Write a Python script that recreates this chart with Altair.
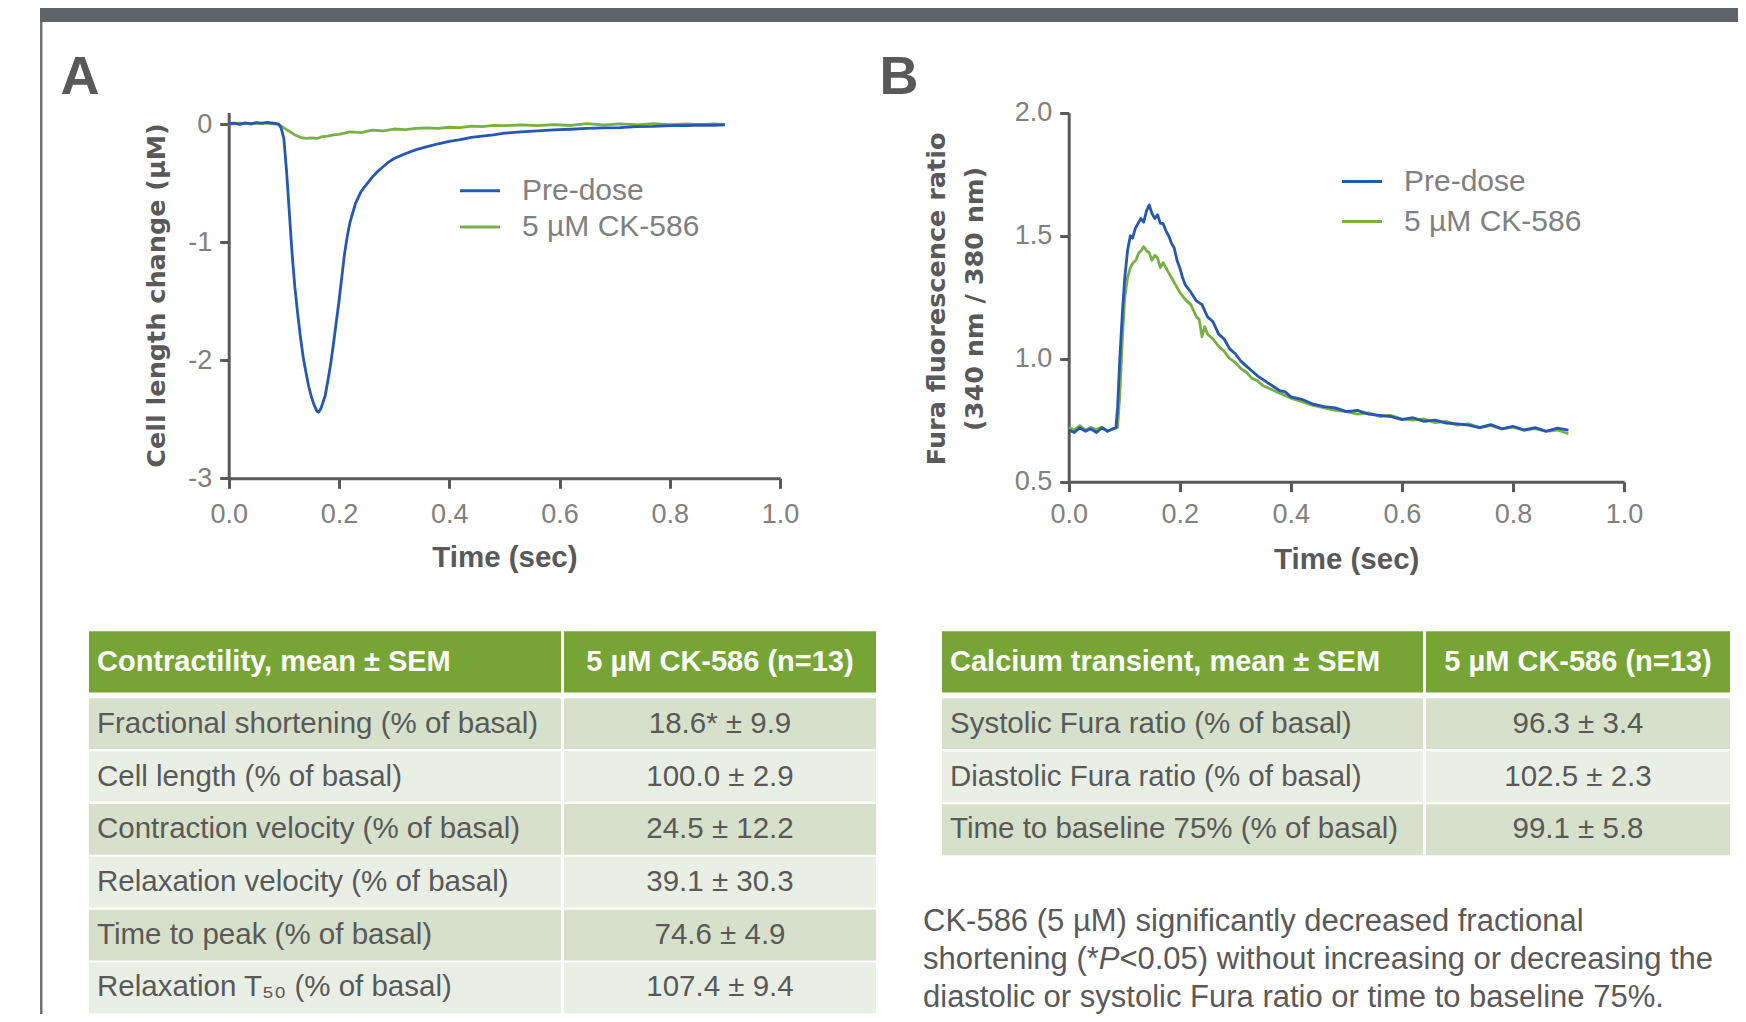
import altair as alt
import pandas as pd

# ---------------- data ----------------
SERIES = ["Pre-dose", "5 µM CK-586"]

# Panel A: cell length change (µM) vs time (sec)
A_PRE_T = [0.0, 0.01, 0.02, 0.03, 0.04, 0.05, 0.06, 0.07, 0.08, 0.09,
           0.095, 0.1, 0.105, 0.11, 0.115, 0.12, 0.125, 0.13, 0.135, 0.14, 0.145, 0.15, 0.155, 0.16,
           0.163, 0.167, 0.17, 0.175, 0.18, 0.185, 0.19, 0.195, 0.2, 0.205, 0.21, 0.215, 0.22,
           0.23, 0.24, 0.25, 0.26, 0.27, 0.28, 0.29, 0.3,
           0.32, 0.34, 0.36, 0.38, 0.4, 0.42, 0.44, 0.46, 0.48, 0.5,
           0.53, 0.56, 0.59, 0.62, 0.65, 0.68, 0.71, 0.74, 0.77, 0.8, 0.83, 0.86,
           0.88, 0.9]
A_PRE_V = [0.005, 0.01, 0.0, 0.012, 0.004, 0.015, 0.008, 0.016, 0.01, 0.004,
           -0.03, -0.12, -0.4, -0.75, -1.1, -1.38, -1.6, -1.8, -1.97, -2.1, -2.22, -2.31, -2.38, -2.43,
           -2.44, -2.41, -2.37, -2.30, -2.17, -2.03, -1.86, -1.68, -1.50, -1.30, -1.10, -0.95, -0.83,
           -0.67, -0.57, -0.51, -0.45, -0.40, -0.36, -0.32, -0.29,
           -0.25, -0.215, -0.19, -0.165, -0.145, -0.13, -0.11, -0.10, -0.09, -0.075,
           -0.065, -0.055, -0.048, -0.042, -0.035, -0.03, -0.028, -0.02, -0.018, -0.012, -0.01, -0.006,
           -0.008, -0.005]
A_CK_T = [0.0, 0.02, 0.04, 0.06, 0.08,
          0.09, 0.1, 0.11, 0.12, 0.13, 0.14, 0.15, 0.16, 0.17, 0.18, 0.19, 0.2,
          0.22, 0.24, 0.26, 0.28, 0.3, 0.32, 0.34, 0.36, 0.38, 0.4, 0.42, 0.44, 0.46, 0.48, 0.5,
          0.53, 0.56, 0.59, 0.62, 0.65, 0.68, 0.71, 0.74, 0.77, 0.8, 0.83, 0.86,
          0.88, 0.9]
A_CK_V = [0.0, 0.01, 0.004, 0.012, 0.003,
          0.0, -0.03, -0.06, -0.09, -0.11, -0.12, -0.115, -0.12, -0.105, -0.1, -0.09, -0.085,
          -0.065, -0.07, -0.05, -0.055, -0.04, -0.045, -0.035, -0.03, -0.035, -0.025, -0.028, -0.015, -0.02, -0.01, -0.012,
          -0.005, -0.012, -0.002, -0.01, 0.005, -0.006, 0.004, -0.004, 0.006, -0.003, 0.004, -0.002,
          0.003, 0.0]

# Panel B: Fura fluorescence ratio vs time (sec)
B_PRE_T = [0.0, 0.01, 0.02, 0.03, 0.04, 0.05, 0.06, 0.07, 0.08,
           0.085, 0.088, 0.092, 0.097, 0.101, 0.106, 0.111,
           0.115, 0.12, 0.125, 0.13, 0.135, 0.14, 0.145, 0.15, 0.155, 0.16, 0.165, 0.17, 0.175, 0.18,
           0.185, 0.19, 0.195, 0.2, 0.205, 0.21,
           0.22, 0.23, 0.24, 0.25, 0.26, 0.27, 0.28, 0.29, 0.3, 0.31, 0.32, 0.33, 0.34, 0.35, 0.36,
           0.37, 0.38, 0.39, 0.4,
           0.42, 0.44, 0.46, 0.48, 0.5, 0.52, 0.54, 0.56, 0.58, 0.6, 0.62, 0.64, 0.66, 0.68, 0.7,
           0.72, 0.74, 0.76, 0.78, 0.8, 0.82, 0.84, 0.86, 0.88, 0.9]
B_PRE_V = [0.71, 0.70, 0.72, 0.705, 0.715, 0.70, 0.72, 0.705, 0.715,
           0.72, 0.80, 1.0, 1.2, 1.33, 1.44, 1.50,
           1.49, 1.53, 1.55, 1.57, 1.555, 1.60, 1.625, 1.59, 1.57, 1.585, 1.55, 1.55, 1.52, 1.50,
           1.47, 1.45, 1.40, 1.37, 1.33, 1.30,
           1.27, 1.235, 1.22, 1.17, 1.15, 1.10, 1.08, 1.04, 1.02, 0.99, 0.97, 0.95, 0.93, 0.915, 0.90,
           0.885, 0.87, 0.865, 0.845,
           0.835, 0.815, 0.805, 0.80, 0.785, 0.79, 0.775, 0.77, 0.765, 0.752, 0.76, 0.745, 0.75, 0.738, 0.735,
           0.73, 0.72, 0.732, 0.715, 0.725, 0.71, 0.72, 0.705, 0.718, 0.71]
B_CK_T = [0.0, 0.01, 0.02, 0.03, 0.04, 0.05, 0.06, 0.07, 0.08,
          0.088, 0.092, 0.097, 0.101, 0.106, 0.111, 0.116, 0.121, 0.126, 0.131, 0.135,
          0.14, 0.145, 0.15, 0.155, 0.16, 0.165, 0.17, 0.175, 0.18, 0.185, 0.19, 0.195, 0.2,
          0.21, 0.22, 0.23, 0.235, 0.24, 0.245, 0.25,
          0.26, 0.27, 0.28, 0.29, 0.3, 0.31, 0.32, 0.33, 0.34, 0.35, 0.36, 0.37, 0.38, 0.39, 0.4,
          0.42, 0.44, 0.46, 0.48, 0.5, 0.52, 0.54, 0.56, 0.58, 0.6, 0.62, 0.64, 0.66, 0.68, 0.7,
          0.72, 0.74, 0.76, 0.78, 0.8, 0.82, 0.84, 0.86, 0.88, 0.9]
B_CK_V = [0.72, 0.71, 0.728, 0.71, 0.72, 0.712, 0.722, 0.705, 0.715,
          0.72, 0.85, 1.10, 1.25, 1.33, 1.37, 1.39, 1.40, 1.43, 1.44, 1.455,
          1.44, 1.43, 1.40, 1.42, 1.41, 1.37, 1.39, 1.37, 1.35, 1.33, 1.31, 1.29, 1.27,
          1.24, 1.22, 1.17, 1.16, 1.09, 1.13, 1.10,
          1.08, 1.05, 1.03, 1.00, 0.985, 0.96, 0.945, 0.92, 0.91, 0.89, 0.88, 0.87, 0.86, 0.85, 0.84,
          0.825, 0.81, 0.80, 0.79, 0.785, 0.775, 0.78, 0.765, 0.77, 0.755, 0.75, 0.755, 0.74, 0.745, 0.73,
          0.735, 0.72, 0.728, 0.715, 0.722, 0.71, 0.716, 0.705, 0.71, 0.695]

X_TICKS = [0.0, 0.2, 0.4, 0.6, 0.8, 1.0]
A_Y_TICKS = [-3, -2, -1, 0]
B_Y_TICKS = [0.5, 1.0, 1.5, 2.0]

PANEL_LETTERS = ["A", "B"]

CONTRACT_HEADER = ["Contractility, mean ± SEM", "5 µM CK-586 (n=13)"]
CONTRACT_LABELS = ["Fractional shortening (% of basal)", "Cell length (% of basal)",
                   "Contraction velocity (% of basal)", "Relaxation velocity (% of basal)",
                   "Time to peak (% of basal)", "Relaxation T₅₀ (% of basal)"]
CONTRACT_VALUES = ["18.6* ± 9.9", "100.0 ± 2.9", "24.5 ± 12.2", "39.1 ± 30.3", "74.6 ± 4.9", "107.4 ± 9.4"]

CALCIUM_HEADER = ["Calcium transient, mean ± SEM", "5 µM CK-586 (n=13)"]
CALCIUM_LABELS = ["Systolic Fura ratio (% of basal)", "Diastolic Fura ratio (% of basal)",
                  "Time to baseline 75% (% of basal)"]
CALCIUM_VALUES = ["96.3 ± 3.4", "102.5 ± 2.3", "99.1 ± 5.8"]

NOTE_LINE1 = "CK-586 (5 µM) significantly decreased fractional"
NOTE_LINE2A = "shortening (*"
NOTE_LINE2B = "P"
NOTE_LINE2C = "<0.05) without increasing or decreasing the"
NOTE_LINE3 = "diastolic or systolic Fura ratio or time to baseline 75%."

# ---------------- layout & style ----------------
W, H = 1730, 1006
SANS = "Liberation Sans, Arial, Helvetica, sans-serif"
WIDE = "DejaVu Sans, Verdana, sans-serif"
NARROW = "Liberation Sans Narrow, Liberation Sans, Arial, sans-serif"

AXIS_C = "#595959"
LABEL_C = "#808080"
TEXT_C = "#595959"
BLUE = "#2458b3"
GREEN = "#78b143"
HEAD = "#76a535"
ROW_DARK = "#d6e0cb"
ROW_LIGHT = "#eaefe5"
BAR_C = "#5f6269"
BORDER_C = "#6f727a"

one = pd.DataFrame({"k": [0]})


def traces(t_pre, v_pre, t_ck, v_ck):
    return pd.DataFrame({
        "t": list(t_ck) + list(t_pre),
        "v": list(v_ck) + list(v_pre),
        "series": [SERIES[1]] * len(t_ck) + [SERIES[0]] * len(t_pre),
    })


def axis(**kw):
    d = dict(domainColor=AXIS_C, domainWidth=3, tickColor=AXIS_C, tickWidth=3,
             labelColor=LABEL_C, labelFont=SANS, labelFontSize=27, labelFlush=False,
             labelOverlap=False, grid=False, titleColor=AXIS_C, titleFontWeight="bold",
             titleAlign="center", titleBaseline="middle")
    d.update(kw)
    return alt.Axis(**d)


def panel(df, x_rng, y_rng, y_dom, y_axis_kw, y_title, y_title_xy, x_title_xy, x_lab_pad,
          leg_x, leg_ys):
    color = alt.Color("series:N", scale=alt.Scale(domain=SERIES, range=[BLUE, GREEN]), legend=None)
    lines = alt.Chart(df).mark_line(strokeWidth=2.8, strokeJoin="round").encode(
        x=alt.X("t:Q", scale=alt.Scale(domain=[0, 1], range=list(x_rng), nice=False, zero=False),
                axis=axis(orient="bottom", values=X_TICKS, format=".1f", tickSize=10,
                          labelPadding=x_lab_pad, offset=y_rng[0] - H,
                          title="Time (sec)", titleFont=SANS, titleFontSize=29.5,
                          titleX=x_title_xy[0], titleY=x_title_xy[1])),
        y=alt.Y("v:Q", scale=alt.Scale(domain=list(y_dom), range=list(y_rng), nice=False, zero=False),
                axis=axis(orient="left", tickSize=9, labelPadding=8, offset=-x_rng[0],
                          title=y_title, titleFont=WIDE, titleFontSize=25.5, titleAngle=270,
                          titleX=y_title_xy[0], titleY=y_title_xy[1], titleLineHeight=38,
                          **y_axis_kw)),
        color=color,
    )
    leg_df = pd.DataFrame({"series": SERIES})
    leg_y = alt.Y("series:N", axis=None,
                  scale=alt.Scale(type="point", domain=SERIES, range=list(leg_ys), padding=0))
    leg_rule = alt.Chart(leg_df).mark_rule(strokeWidth=3).encode(
        x=alt.value(leg_x), x2=alt.value(leg_x + 40), y=leg_y, color=color)
    leg_text = alt.Chart(leg_df).mark_text(align="left", baseline="middle", font=SANS,
                                           fontSize=30, color=LABEL_C).encode(
        x=alt.value(leg_x + 62), y=leg_y, text="series:N")
    return [lines, leg_rule, leg_text]


def table(header, labels, values, cols, head_rng, body_rng):
    c1l, c1r, c2l, c2r = cols
    hdf = pd.DataFrame({"name": [header[0]], "value": [header[1]]})
    hy = alt.Y("name:N", axis=None, scale=alt.Scale(range=list(head_rng), paddingInner=0, paddingOuter=0))
    hb = alt.Chart(hdf)
    layers = [
        hb.mark_rect(color=HEAD).encode(x=alt.value(c1l), x2=alt.value(c1r), y=hy),
        hb.mark_rect(color=HEAD).encode(x=alt.value(c2l), x2=alt.value(c2r), y=hy),
        hb.mark_text(align="left", baseline="middle", font=SANS, fontSize=29, fontWeight="bold",
                     color="white").encode(x=alt.value(c1l + 8), y=hy, text="name:N"),
        hb.mark_text(align="center", baseline="middle", font=SANS, fontSize=29, fontWeight="bold",
                     color="white").encode(x=alt.value((c2l + c2r) / 2), y=hy, text="value:N"),
    ]
    bdf = pd.DataFrame({
        "name": labels,
        "value": values,
        "shade": ["dark" if i % 2 == 0 else "light" for i in range(len(labels))],
    })
    by = alt.Y("name:N", sort=list(labels), axis=None,
               scale=alt.Scale(range=list(body_rng), paddingInner=0.04, paddingOuter=0))
    shade = alt.Color("shade:N", scale=alt.Scale(domain=["dark", "light"], range=[ROW_DARK, ROW_LIGHT]),
                      legend=None)
    bb = alt.Chart(bdf)
    layers += [
        bb.mark_rect().encode(x=alt.value(c1l), x2=alt.value(c1r), y=by, color=shade),
        bb.mark_rect().encode(x=alt.value(c2l), x2=alt.value(c2r), y=by, color=shade),
        bb.mark_text(align="left", baseline="middle", font=SANS, fontSize=29.5, color=TEXT_C).encode(
            x=alt.value(c1l + 8), y=by, text="name:N"),
        bb.mark_text(align="center", baseline="middle", font=SANS, fontSize=29.5, color=TEXT_C).encode(
            x=alt.value((c2l + c2r) / 2), y=by, text="value:N"),
    ]
    return layers


# decoration: top band and left border
band = alt.Chart(one).mark_rect(color=BAR_C).encode(
    x=alt.value(32), x2=alt.value(W), y=alt.value(0), y2=alt.value(14))
border = alt.Chart(one).mark_rect(color=BORDER_C).encode(
    x=alt.value(32), x2=alt.value(34.5), y=alt.value(14), y2=alt.value(H))

letters_df = pd.DataFrame({"letter": PANEL_LETTERS})
letters = alt.Chart(letters_df).mark_text(font=NARROW, fontSize=54, fontWeight="bold",
                                          color=AXIS_C, baseline="alphabetic", align="center").encode(
    x=alt.X("letter:N", axis=None, scale=alt.Scale(type="point", domain=PANEL_LETTERS,
                                                   range=[72, 891], padding=0)),
    y=alt.value(85.5), text="letter:N")

panel_a = panel(traces(A_PRE_T, A_PRE_V, A_CK_T, A_CK_V),
                x_rng=(220.7, 772.1), y_rng=(470.3, 104.5), y_dom=(-3, 0.1),
                y_axis_kw=dict(values=A_Y_TICKS,
                               labelExpr="datum.value < 0 ? '-' + abs(datum.value) : '' + datum.value"),
                y_title="Cell length change (µM)", y_title_xy=(-72, 287),
                x_title_xy=(496.4, 79.6), x_lab_pad=13.5,
                leg_x=452, leg_ys=(182.7, 219))
panel_b = panel(traces(B_PRE_T, B_PRE_V, B_CK_T, B_CK_V),
                x_rng=(1060.7, 1616), y_rng=(473.7, 104.7), y_dom=(0.5, 2.0),
                y_axis_kw=dict(values=B_Y_TICKS, format=".1f"),
                y_title=["Fura fluorescence ratio", "(340 nm / 380 nm)"], y_title_xy=(-132, 290.4),
                x_title_xy=(1338.2, 77.3), x_lab_pad=10,
                leg_x=1334, leg_ys=(173.5, 213.6))

table_1 = table(CONTRACT_HEADER, CONTRACT_LABELS, CONTRACT_VALUES,
                cols=(81, 553, 556, 868), head_rng=(623.3, 684.6), body_rng=(690.2, 1005.3))
table_2 = table(CALCIUM_HEADER, CALCIUM_LABELS, CALCIUM_VALUES,
                cols=(934, 1415, 1418, 1722), head_rng=(623.3, 684.6), body_rng=(690.2, 847.2))

# explanatory note (three lines, italic P on the second)
note_y = alt.Y("line:O", axis=None,
               scale=alt.Scale(type="point", domain=[0, 1, 2], range=[914, 989.5], padding=0))
NOTE_X = 915
FS_NOTE = 31


def note_seg(text, line, x, italic=False):
    return alt.Chart(pd.DataFrame({"line": [line], "txt": [text]})).mark_text(
        align="left", baseline="middle", font=SANS, fontSize=FS_NOTE, color=TEXT_C,
        fontStyle="italic" if italic else "normal").encode(
        x=alt.value(x), y=note_y, text="txt:N")


w2a = 5.669 * FS_NOTE
w2b = 0.667 * FS_NOTE
note = [
    note_seg(NOTE_LINE1, 0, NOTE_X),
    note_seg(NOTE_LINE2A, 1, NOTE_X),
    note_seg(NOTE_LINE2B, 1, NOTE_X + w2a, italic=True),
    note_seg(NOTE_LINE2C, 1, NOTE_X + w2a + w2b),
    note_seg(NOTE_LINE3, 2, NOTE_X),
]

layers = [band, border, letters] + table_1 + table_2 + note + panel_a + panel_b

chart = (
    alt.layer(*layers)
    .resolve_scale(x="independent", y="independent", color="independent")
    .properties(width=W, height=H, padding=0, autosize=alt.AutoSizeParams(type="none"))
    .configure_view(stroke=None)
)

chart.save("out.html", embed_options={"renderer": "svg", "actions": False})
